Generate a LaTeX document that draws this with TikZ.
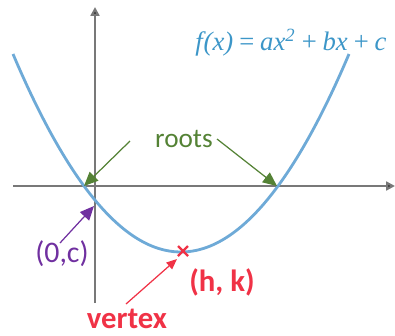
\documentclass[tikz,border=0pt]{standalone}
\usepackage{fontspec}
\setmainfont{Carlito}
\newfontfamily\formfont{Liberation Serif}
\usetikzlibrary{arrows.meta}
\definecolor{axisgray}{RGB}{120,120,120}
\definecolor{curveblue}{RGB}{110,170,215}
\definecolor{formblue}{RGB}{60,150,200}
\definecolor{rootgreen}{RGB}{84,130,53}
\definecolor{cpurple}{RGB}{112,48,160}
\definecolor{vred}{RGB}{240,50,70}
\tikzset{
  axisline/.style={draw=axisgray, line width=1.6pt, -{Triangle[length=5pt,width=5pt,fill=black]}},
  curve/.style={draw=curveblue, line width=1.6pt},
  greenarrow/.style={draw=rootgreen, line width=0.7pt, -{Triangle[length=8pt,width=7pt]}},
  purplearrow/.style={draw=cpurple, line width=0.7pt, -{Triangle[length=8pt,width=7pt]}},
  redarrow/.style={draw=vred, line width=0.7pt, -{Triangle[length=6pt,width=5pt]}},
  lbl/.style={inner sep=0pt, anchor=center},
}
\begin{document}
\begin{tikzpicture}[x=0.02cm, y=-0.02cm]
\useasboundingbox (0,0) rectangle (395,335);
% axes
\coordinate (xl) at (13,186);
\coordinate (xr) at (395,186);
\coordinate (yb) at (95,303);
\coordinate (yt) at (95,7);
\draw[axisline] (xl) -- (xr);
\draw[axisline] (yb) -- (yt);
% parabola
\draw[curve] plot[domain=13:349, samples=80, smooth] (\x, {252-((\x-181)*0.08376)^2});
% key points
\coordinate (r1) at (84,186);
\coordinate (r2) at (277,186);
\coordinate (yc) at (94,206);
\coordinate (vx) at (183,251);
\coordinate (vxtip) at (177,259);
% vertex cross
\draw[vred, line width=1.3pt] ([shift={(-5,-5)}]vx) -- ([shift={(5,5)}]vx)
  ([shift={(-5,5)}]vx) -- ([shift={(5,-5)}]vx);
% labels
\node[inner sep=0pt, anchor=west, text=formblue, font=\formfont\itshape\fontsize{15.2}{17}\selectfont] (form) at (195,43) {f\kern0.5pt(x)\,=\,ax\textsuperscript{2}\,+\,bx\,+\,c};
\node[lbl, text=rootgreen, font=\fontsize{15.5}{18}\selectfont] (roots) at (184,139) {roots};
\node[lbl, text=cpurple, font=\fontsize{17}{20}\selectfont] (zc) at (62,254) {(0,c)};
\node[lbl, text=vred, font=\bfseries\fontsize{17.5}{20}\selectfont] (hk) at (222,282) {(h, k)};
\node[lbl, text=vred, font=\bfseries\fontsize{17.5}{20}\selectfont] (vtx) at (127,319) {vertex};
% arrow starts
\coordinate (g1) at (130,141);
\coordinate (g2) at (217,139);
\coordinate (p1) at (60,243);
\coordinate (v1) at (126,304);
\draw[greenarrow] (g1) -- (r1);
\draw[greenarrow] (g2) -- (r2);
\draw[purplearrow] (p1) -- (yc);
\draw[redarrow] (v1) -- (vxtip);
\end{tikzpicture}
\end{document}
